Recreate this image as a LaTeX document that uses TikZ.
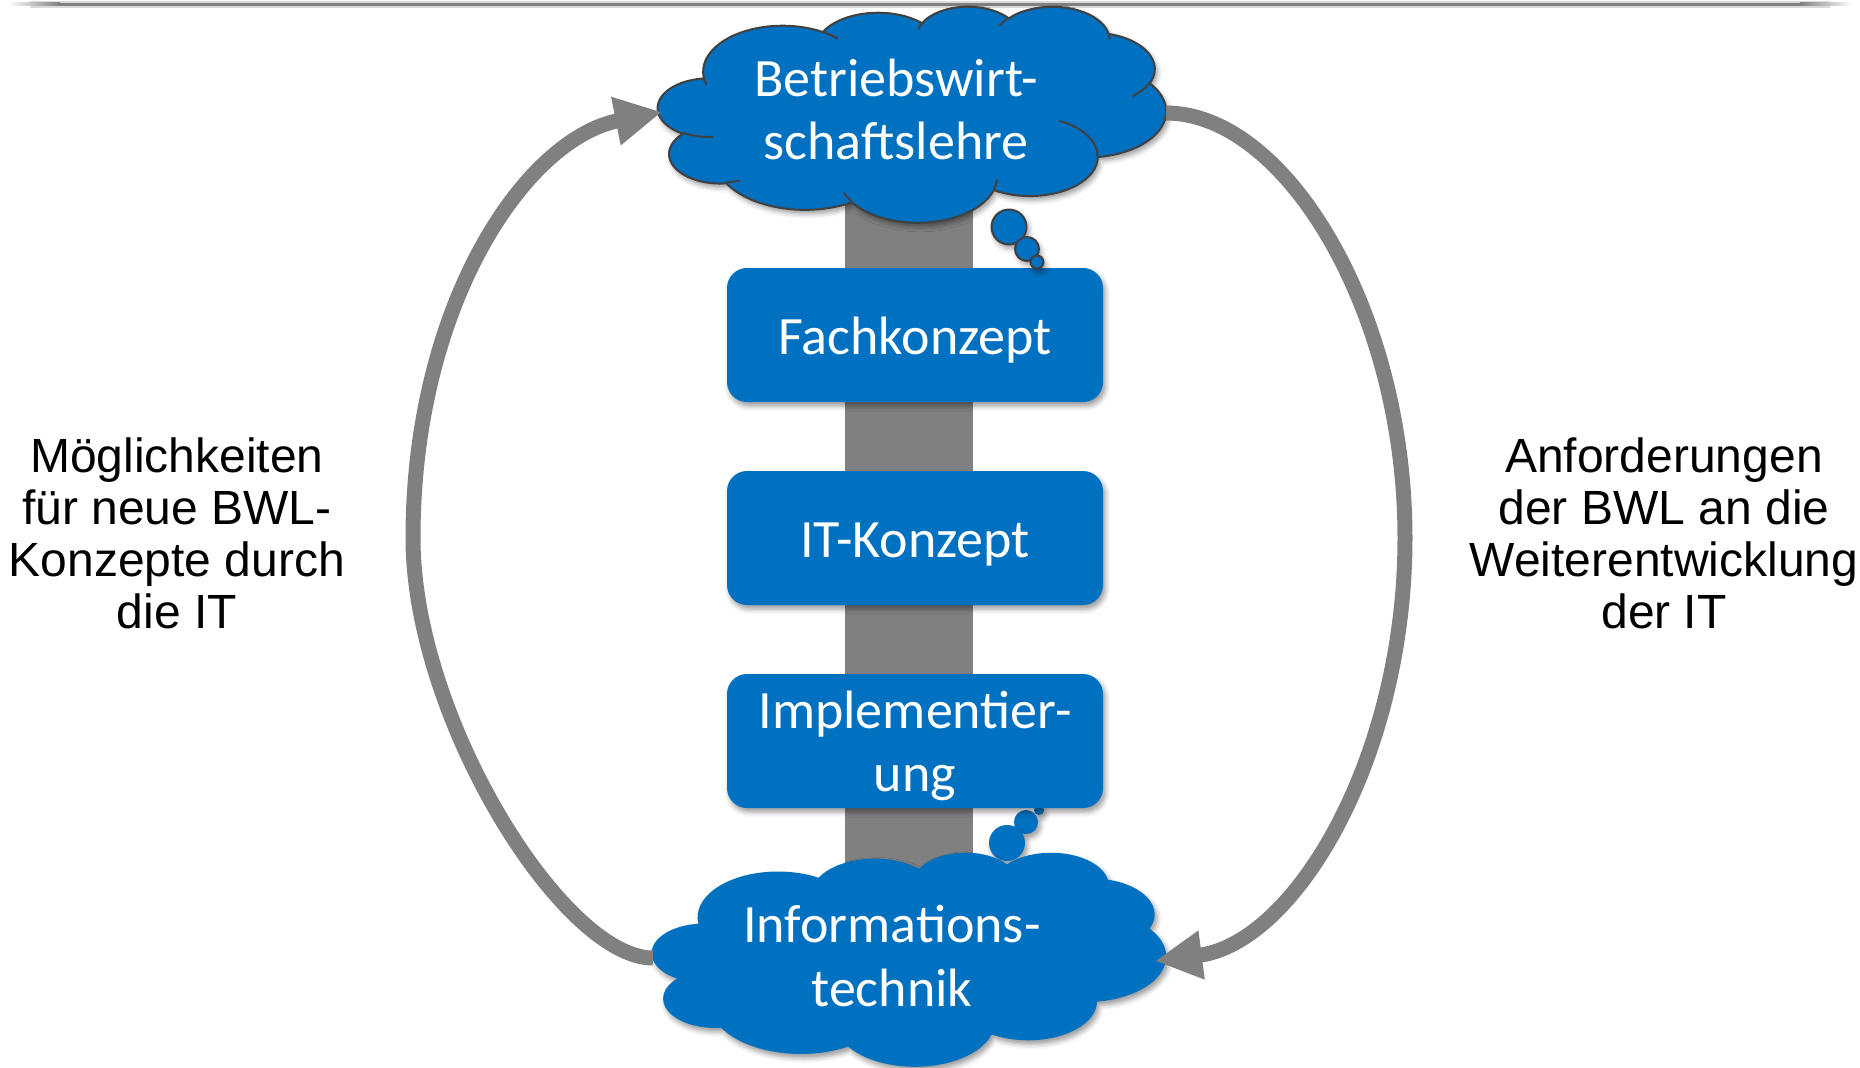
\documentclass[tikz,border=0pt]{standalone}
\usepackage{fontspec}
\setmainfont{Carlito}
\newfontfamily\arialfont{Liberation Sans}
\usetikzlibrary{arrows.meta,shadows.blur}

\definecolor{boxblue}{HTML}{0070C0}
\definecolor{flowgray}{HTML}{808080}
\definecolor{edgegray}{HTML}{404040}

% invisible struts that fix the height of the first and the depth of the last line
\newcommand\TopStrut{\rule{0pt}{0.975em}}
\newcommand\BotStrut{\rule[-0.27em]{0pt}{0.27em}}

% Cloud outline on a 432 x 432 grid, built from elliptic arcs whose
% angles are given as the direction of the point seen from the centre.
\makeatletter
\newcommand\cloudArcTo[4]{% #1 x radius, #2 y radius, #3 start, #4 sweep
  \pgfmathsetmacro\cld@ts{atan2((#1)*sin(#3),(#2)*cos(#3))}%
  \pgfmathsetmacro\cld@te{atan2((#1)*sin((#3)+(#4)),(#2)*cos((#3)+(#4)))}%
  \pgfmathsetmacro\cld@d{(\cld@te)-(\cld@ts)}%
  \pgfmathsetmacro\cld@d{(\cld@d)+360*round(((#4)-(\cld@d))/360)}%
  \xdef\cld@acc{\cld@acc arc[start angle=\cld@ts,delta angle=\cld@d,x radius=#1,y radius=#2]}%
}
\newcommand\cloudMoveTo[2]{\xdef\cld@acc{\cld@acc (#1,#2)}}

\gdef\cld@acc{}
\cloudMoveTo{39}{143.7}
\cloudArcTo{67.53}{91.90}{-190.487}{123.781}
\cloudArcTo{53.33}{72.67}{-144.102}{89.945}
\cloudArcTo{43.65}{59.45}{-145.808}{99.723}
\cloudArcTo{48.57}{65.95}{-130.986}{117.242}
\cloudArcTo{53.33}{72.73}{-78.709}{109.027}
\cloudArcTo{67.75}{92.20}{-46.267}{130.269}
\cloudArcTo{57.85}{78.67}{0.625}{114.033}
\cloudArcTo{67.52}{92.15}{22.452}{115.173}
\cloudArcTo{77.20}{105.43}{66.243}{75.711}
\cloudArcTo{43.60}{59.18}{-274.942}{146.736}
\cloudArcTo{43.45}{59.45}{-246.829}{152.519}
\xdef\CloudBody{\cld@acc -- cycle}

\gdef\cld@acc{}
\cloudMoveTo{46.93}{261.77}\cloudArcTo{43.45}{59.45}{86.742}{26.430}
\cloudMoveTo{69.28}{348.99}\cloudArcTo{43.60}{59.18}{73.610}{11.447}
\cloudMoveTo{164.78}{390.90}\cloudArcTo{67.52}{92.15}{137.624}{14.081}
\cloudMoveTo{288.27}{347.51}\cloudArcTo{67.52}{92.15}{6.453}{15.998}
\cloudMoveTo{341.29}{229.54}\cloudArcTo{57.85}{78.67}{-70.292}{70.917}
\cloudMoveTo{417.98}{153.54}\cloudArcTo{53.33}{72.73}{30.318}{27.752}
\cloudMoveTo{383.24}{54.26}\cloudArcTo{48.57}{65.95}{-13.744}{14.859}
\cloudMoveTo{290.78}{39.52}\cloudArcTo{48.57}{65.95}{-149.181}{18.195}
\cloudMoveTo{221.41}{47.20}\cloudArcTo{43.65}{59.45}{-163.494}{17.686}
\cloudMoveTo{140.00}{51.92}\cloudArcTo{67.53}{91.90}{-66.707}{12.319}
\cloudMoveTo{41.27}{157.89}\cloudArcTo{67.53}{91.90}{157.654}{11.858}
\xdef\CloudCrease{\cld@acc}
\makeatother

\begin{document}
\begin{tikzpicture}[x=0.5pt,y=-0.5pt,
  softshadow/.style={blur shadow={shadow xshift=1.2pt,shadow yshift=-2pt,
      shadow blur radius=2.5pt,shadow opacity=40}},
  stepbox/.style={rectangle,rounded corners=10pt,fill=boxblue,
      minimum width=188pt,minimum height=67pt,inner sep=0pt,softshadow,
      text=white,align=center,font=\fontsize{27}{31.7}\selectfont},
  cloudtext/.style={text=white,align=center,inner sep=0pt,
      font=\fontsize{27}{31.7}\selectfont},
  sidetext/.style={text=black,align=center,inner sep=0pt,
      font=\arialfont\fontsize{24}{26}\selectfont},
  cyclearrow/.style={draw=flowgray,line width=7.5pt,
      -{Triangle[length=23.5pt,width=23pt]}},
  bubble/.style={fill=boxblue,softshadow},
]
\useasboundingbox (0,0) rectangle (1860,1067);

% rule along the top edge
\fill[gray!30] (30,1) rectangle (1830,7.5);
\shade[left color=white,right color=flowgray] (8,2.5) rectangle (60,5.5);
\fill[flowgray] (60,2.5) rectangle (1800,5.5);
\shade[left color=flowgray,right color=white] (1800,2.5) rectangle (1852,5.5);

% vertical band behind the steps
\fill[flowgray] (845,190) rectangle (973,880);

% thought bubbles of the lower cloud (the smallest one hides under the box)
\fill[bubble] (1039,810) circle[radius=5];
\fill[bubble] (1026,822) circle[radius=12];
\fill[bubble] (1007,843) circle[radius=18];

% the three steps
\node[stepbox] (fach) at (915,335) {\TopStrut Fachkonzept\BotStrut};
\node[stepbox] (itk)  at (915,538) {\TopStrut IT-Konzept\BotStrut};
\node[stepbox] (impl) at (915,741) {\TopStrut Implementier-\\ung\BotStrut};

% upper cloud
\begin{scope}[shift={(658,6)},xscale=508/432,yscale=216/432]
  \fill[boxblue,draw=edgegray,line width=1pt,softshadow] \CloudBody;
  \draw[edgegray,line width=1pt] \CloudCrease;
\end{scope}
\filldraw[bubble,draw=edgegray,line width=1pt] (1009,227) circle[radius=17.5];
\filldraw[bubble,draw=edgegray,line width=1pt] (1027,249) circle[radius=12];
\filldraw[bubble,draw=edgegray,line width=1pt] (1037,262) circle[radius=6.5];

% lower cloud
\begin{scope}[shift={(652,852)},xscale=514/432,yscale=214/432]
  \fill[boxblue,softshadow] \CloudBody;
\end{scope}

\node[cloudtext] (bwl) at (896,109) {\TopStrut Betriebswirt-\\schaftslehre\BotStrut};
\node[cloudtext] (it)  at (892,955.4) {\TopStrut Informations-\\technik\BotStrut};

% the two arcs of the cycle
\coordinate (bwlR) at (1166,113);
\coordinate (bwlL) at (662,112);
\coordinate (itR)  at (1155,961);
\coordinate (itL)  at (653,958);
\coordinate (rmid) at (1405,538);
\coordinate (lmid) at (413,538);
\draw[cyclearrow] (bwlR) .. controls (1285,113) and (1405,310) .. (rmid)
                         .. controls (1405,758) and (1295,943) .. (itR);
\draw[cyclearrow] (itL) .. controls (563,958) and (413,718) .. (lmid)
                        .. controls (413,305) and (525,139) .. (bwlL);

% side captions
\node[sidetext] (left)  at (177,533.1)
  {\TopStrut Möglichkeiten\\für neue BWL-\\Konzepte durch\\die IT\BotStrut};
\node[sidetext] (right) at (1664,533.1)
  {\TopStrut Anforderungen\\der BWL an die\\Weiterentwicklung\\der IT\BotStrut};
\end{tikzpicture}
\end{document}
